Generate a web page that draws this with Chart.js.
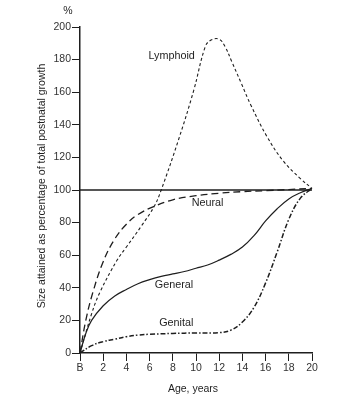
<!DOCTYPE html>
<html>
<head>
<meta charset="utf-8">
<script src="https://cdn.jsdelivr.net/npm/chart.js@4.4.1/dist/chart.umd.min.js"></script>
<style>
  html, body { margin: 0; padding: 0; background: #fff; }
  #wrap { width: 352px; height: 404px; }
</style>
</head>
<body>
<div id="wrap"><canvas id="growthChart" width="352" height="404"></canvas></div>
<script>
// values (age in years, size in % of total postnatal growth)
const lymphoidAges   = [0, 1, 1.7, 3.2, 4, 5.3, 6.4, 7, 8.5, 9.8, 10.8, 11.3, 12, 12.5, 13.1, 13.9, 14.7, 16.1, 17.5, 19, 20];
const lymphoidValues = [0, 24, 37, 57, 65, 78, 90, 100, 131, 161, 188, 192, 192.5, 188, 178.5, 165.5, 152.5, 133, 118, 107, 101];

const neuralAges   = [0, 0.5, 1.1, 2, 3, 4, 5, 6.4, 8, 10, 12, 14, 16, 20];
const neuralValues = [0, 20, 37, 56, 70, 79, 85, 90, 94, 96.5, 98, 99, 99.6, 101];

const generalAges   = [0, 0.5, 1, 2, 3, 4, 5, 6, 7, 8, 9, 10, 11, 12, 13, 14, 15, 16, 17, 18, 19, 20];
const generalValues = [0, 12, 20, 29, 35, 39, 42.5, 45, 47, 48.5, 50, 52, 54, 57, 60.5, 65, 72, 81, 88.5, 94.5, 98.3, 101];

const genitalAges   = [0, 1, 2, 3, 4, 5, 6, 8, 10, 12, 13, 14, 15, 16, 17, 18, 19, 20];
const genitalValues = [0, 4.5, 7, 8.5, 10, 11, 11.5, 12, 12.3, 12.5, 14, 19, 28, 43, 62, 82, 95, 101];

const adultAges   = [0, 20];
const adultValues = [100, 100];

const seriesNames = ['Lymphoid', 'Neural', 'General', 'Genital'];

const ink = '#1e1e1e';
const font = '"Liberation Sans", Arial, sans-serif';

function toPoints(ages, values) {
    return ages.map(function(a, i) { return { x: a, y: values[i] }; });
}

// text drawn over the plot: series names, % sign and axis titles
const chartText = {
    id: 'chartText',
    afterDraw(chart) {
        const ctx = chart.ctx;
        const xs = chart.scales.x, ys = chart.scales.y;
        const spots = [[7.9, 182], [11.0, 92], [8.1, 41.7], [8.3, 18.2]];
        ctx.save();
        ctx.fillStyle = ink;
        ctx.textAlign = 'center';
        ctx.textBaseline = 'middle';
        ctx.font = '10.8px ' + font;
        seriesNames.forEach(function(name, i) {
            ctx.fillText(name, xs.getPixelForValue(spots[i][0]), ys.getPixelForValue(spots[i][1]));
        });
        ctx.font = '10.5px ' + font;
        ctx.fillText('%', 68, 11);
        ctx.fillText('Age, years', 193, 389);
        ctx.translate(42, 186);
        ctx.rotate(-Math.PI / 2);
        ctx.fillText('Size attained as percentage of total postnatal growth', 0, 0);
        ctx.restore();
    }
};

const lineBase = { pointRadius: 0, borderColor: ink, fill: false, tension: 0.4, clip: false };

new Chart(document.getElementById('growthChart'), {
    type: 'line',
    data: {
        datasets: [
            Object.assign({ label: seriesNames[0], data: toPoints(lymphoidAges, lymphoidValues), borderWidth: 1.1, borderDash: [3, 2.5] }, lineBase),
            Object.assign({ label: seriesNames[1], data: toPoints(neuralAges, neuralValues), borderWidth: 1.3, borderDash: [7, 4] }, lineBase),
            Object.assign({ label: seriesNames[2], data: toPoints(generalAges, generalValues), borderWidth: 1.2 }, lineBase),
            Object.assign({ label: seriesNames[3], data: toPoints(genitalAges, genitalValues), borderWidth: 1.5, borderDash: [5, 2, 1.5, 2] }, lineBase),
            Object.assign({ label: 'Adult', data: toPoints(adultAges, adultValues), borderWidth: 1.6, tension: 0 }, lineBase)
        ]
    },
    options: {
        responsive: false,
        animation: false,
        layout: { padding: { left: 0, right: 40, top: 27, bottom: 0 } },
        plugins: { legend: { display: false }, tooltip: { enabled: false } },
        scales: {
            x: {
                type: 'linear',
                min: 0,
                max: 20,
                afterFit: function(scale) { scale.height = 51; },
                border: { display: true, color: ink, width: 1.5 },
                grid: { drawOnChartArea: false, drawTicks: true, tickLength: 8, tickColor: ink, tickWidth: 1 },
                ticks: {
                    stepSize: 2,
                    padding: 1,
                    color: '#333',
                    font: { family: font, size: 10.5 },
                    maxRotation: 0,
                    callback: function(v) { return v === 0 ? 'B' : v; }
                }
            },
            y: {
                min: 0,
                max: 200,
                afterFit: function(scale) { scale.width = 80; },
                border: { display: true, color: ink, width: 1.5 },
                grid: { drawOnChartArea: false, drawTicks: true, tickLength: 8, tickColor: ink, tickWidth: 1 },
                ticks: {
                    stepSize: 20,
                    padding: 1,
                    color: '#333',
                    font: { family: font, size: 10.5 }
                }
            }
        }
    },
    plugins: [chartText]
});
</script>
</body>
</html>
